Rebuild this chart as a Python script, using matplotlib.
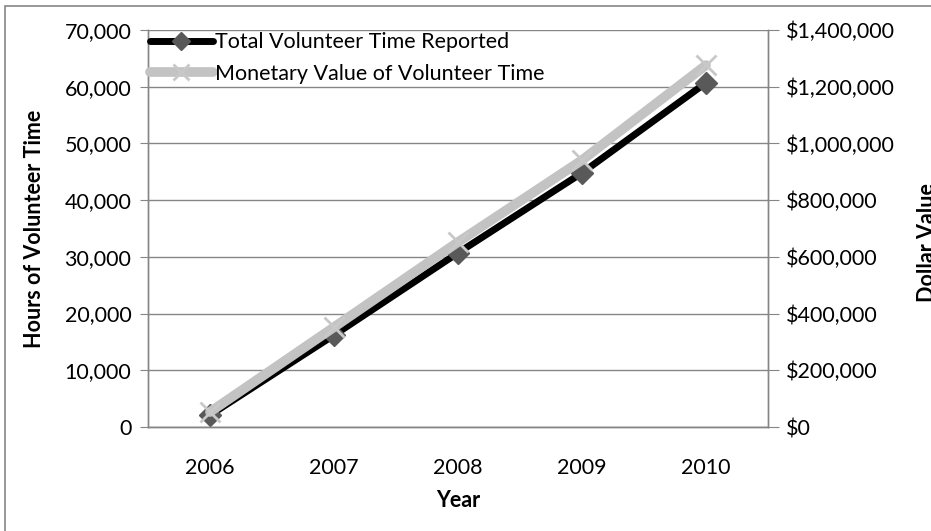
import matplotlib
matplotlib.use('Agg')
import matplotlib.pyplot as plt
from matplotlib.patches import Rectangle
from matplotlib.ticker import FuncFormatter, MultipleLocator

plt.rcParams['font.family'] = ['Lato', 'DejaVu Sans']

# data
years = ['2006', '2007', '2008', '2009', '2010']
hours = [2100, 16200, 30700, 44800, 60700]
dollars = [53000, 352000, 652000, 941000, 1276000]

W, H = 931, 531
fig = plt.figure(figsize=(W / 100, H / 100), dpi=100)

# outer chart border (Excel style)
fig.patches.append(Rectangle((5 / W, 1 - 545 / H), 945 / W, 539 / H,
                             transform=fig.transFigure, fill=False,
                             edgecolor='#868686', lw=1.2))

grey = '#868686'
fs = 15.5
ax = fig.add_axes([148 / W, 1 - 427 / H, 620 / W, 397 / H])
ax2 = ax.twinx()

x = range(len(years))
ax.plot(x, hours, color='black', lw=5, marker='D', ms=11,
        mfc='#595959', mec='#595959', label='Total Volunteer Time Reported', solid_capstyle='round')
ax2.plot(x, dollars, color='#c3c3c3', lw=7, marker='x', ms=15, mew=2,
         mec='#c8c8c8', label='Monetary Value of Volunteer Time', solid_capstyle='round')

ax.set_xlim(-0.5, 4.5)
ax.set_ylim(0, 70000)
ax2.set_ylim(0, 1400000)
ax.yaxis.set_major_locator(MultipleLocator(10000))
ax2.yaxis.set_major_locator(MultipleLocator(200000))
ax.yaxis.set_major_formatter(FuncFormatter(lambda v, p: f'{int(v):,}'))
ax2.yaxis.set_major_formatter(FuncFormatter(lambda v, p: f'${int(v):,}'))
ax.set_xticks(list(x))
ax.set_xticklabels(years)

ax.grid(axis='y', color=grey, lw=1)
ax.set_axisbelow(True)
for a in (ax, ax2):
    a.spines['top'].set_visible(False)
    for s in ('left', 'right', 'bottom'):
        a.spines[s].set_color(grey)
        a.spines[s].set_linewidth(1)
ax.tick_params(axis='y', length=6, color=grey, labelsize=fs, pad=6)
ax2.tick_params(axis='y', length=8, color=grey, labelsize=fs, pad=5)
ax.tick_params(axis='x', length=0, labelsize=fs, pad=22)

ax.set_ylabel('Hours of Volunteer Time', fontsize=fs, fontweight='bold', labelpad=14)
ax.set_xlabel('Year', fontsize=fs, fontweight='bold', labelpad=9)
fig.text(917 / W, 1 - 243 / H, 'Dollar Value', rotation=90, fontsize=fs,
         fontweight='bold', ha='left', va='center')

h1, l1 = ax.get_legend_handles_labels()
h2, l2 = ax2.get_legend_handles_labels()
leg = ax2.legend(h1 + h2, l1 + l2, loc='upper left', bbox_to_anchor=(0.0, 1.0),
                 frameon=False, fontsize=fs, handlelength=2.9, handletextpad=0.1,
                 borderaxespad=0.0, borderpad=0.1, labelspacing=0.55, markerscale=0.8)

fig.savefig('out.png', dpi=100)
